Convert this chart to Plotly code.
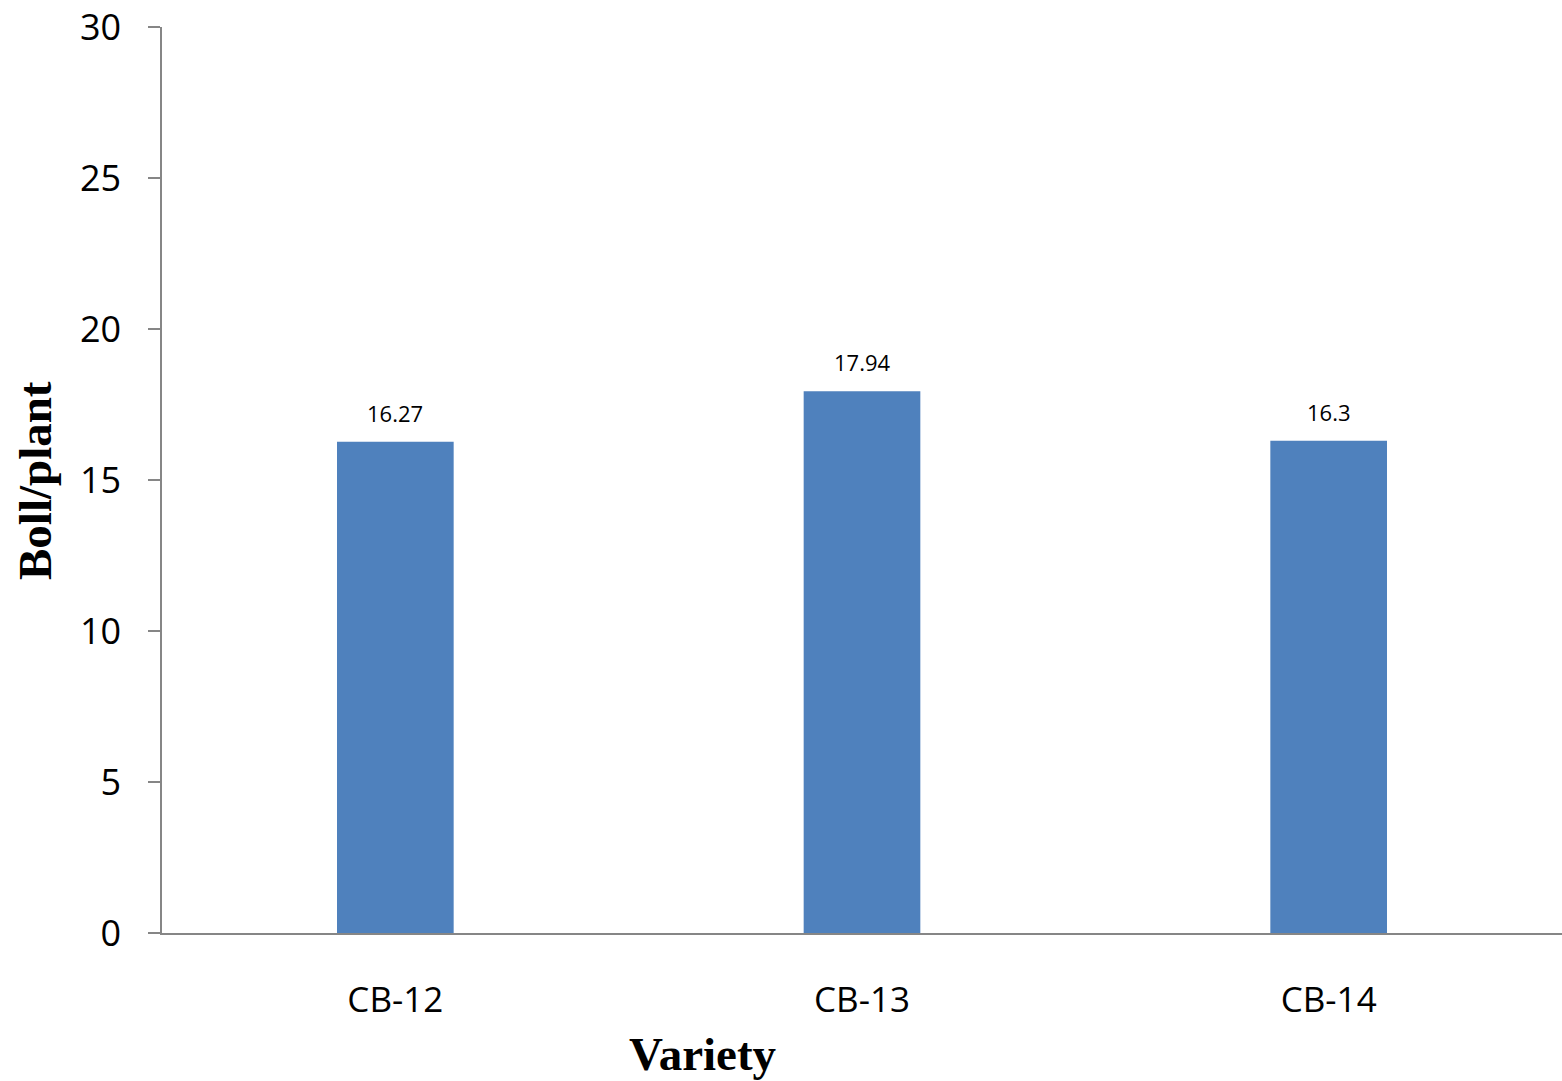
import plotly.graph_objects as go

categories = ["CB-12", "CB-13", "CB-14"]
values = [16.27, 17.94, 16.3]
labels = ["16.27", "17.94", "16.3"]

fig = go.Figure(go.Bar(
    x=categories, y=values, width=0.25,
    marker=dict(color="#4F81BD", line=dict(width=0)),
))

label_annotations = [
    dict(x=c, y=v, text=t, xref="x", yref="y", showarrow=False,
         yanchor="bottom", xanchor="center", yshift=12,
         font=dict(family="Open Sans, Liberation Sans, sans-serif", size=22, color="#000000"))
    for c, v, t in zip(categories, values, labels)
]

fig.update_layout(
    width=1562, height=1081,
    margin=dict(l=162, r=0, t=27, b=148),
    plot_bgcolor="white", paper_bgcolor="white",
    showlegend=False,
    xaxis=dict(
        showline=True, linecolor="#868686", linewidth=1.5,
        ticks="", showgrid=False, automargin=False,
        tickfont=dict(family="Open Sans, Liberation Sans, sans-serif", size=35, color="#000000"),
        ticklabelstandoff=35,
    ),
    yaxis=dict(
        range=[0, 30], tickvals=[0, 5, 10, 15, 20, 25, 30],
        showline=True, linecolor="#868686", linewidth=1.5,
        ticks="outside", ticklen=12, tickcolor="#868686", tickwidth=1.5,
        showgrid=False, zeroline=False, automargin=False,
        tickfont=dict(family="Open Sans, Liberation Sans, sans-serif", size=36, color="#000000"),
        ticklabelstandoff=20, ticklabeloverflow="allow",
    ),
    annotations=label_annotations + [
        dict(text="<b>Variety</b>", xref="paper", yref="paper",
             x=(703 - 162) / 1400, y=-(1054 - 933) / 906, xanchor="center", yanchor="middle",
             showarrow=False,
             font=dict(family="Liberation Serif, Times New Roman, serif", size=47, color="#000000")),
        dict(text="<b>Boll/plant</b>", xref="paper", yref="paper",
             x=-(162 - 35) / 1400, y=(933 - 480) / 906, xanchor="center", yanchor="middle",
             textangle=-90, showarrow=False,
             font=dict(family="Liberation Serif, Times New Roman, serif", size=47, color="#000000")),
    ],
)

fig.write_html(
    "out.html",
    config={"displayModeBar": False},
    post_script="document.body.style.margin='0';document.body.style.overflow='hidden';",
)
